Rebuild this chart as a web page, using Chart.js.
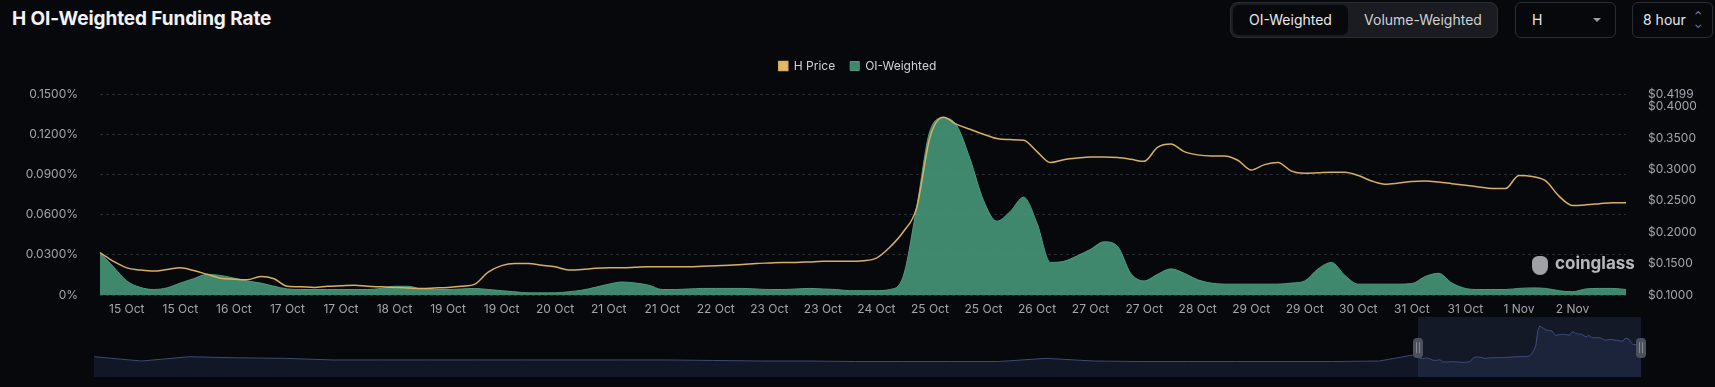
<!DOCTYPE html>
<html>
<head>
<meta charset="utf-8">
<script src="https://cdn.jsdelivr.net/npm/chart.js@4.4.0/dist/chart.umd.min.js"></script>
<style>
  body { margin: 0; background: #07080c; width: 1715px; height: 387px; overflow: hidden; position: relative; font-family: Inter, "Noto Sans", sans-serif; }
  .title { position: absolute; left: 12px; top: 5px; font-size: 19px; line-height: 28px; font-weight: 700; color: #f2f3f5; letter-spacing: -0.1px; }
  .seg { position: absolute; left: 1230px; top: 2px; width: 266px; height: 34px; background: #1a1c21; border: 1px solid #2a2d33; border-radius: 8px; }
  .seg .on { position: absolute; left: 2px; top: 2px; width: 115px; height: 30px; background: #08090c; border-radius: 6px; color: #e8e9eb; font-size: 14px; line-height: 30px; text-align: center; }
  .seg .off { position: absolute; left: 120px; top: 2px; width: 144px; height: 30px; color: #cfd1d5; font-size: 14px; line-height: 30px; text-align: center; }
  .box { position: absolute; top: 2px; height: 34px; border: 1px solid #2a2d33; border-radius: 6px; color: #e8e9eb; font-size: 14px; line-height: 34px; }
  .caret { position: absolute; right: 14px; top: 15px; width: 0; height: 0; border-left: 4px solid transparent; border-right: 4px solid transparent; border-top: 4px solid #9a9ea6; }
  .updown { position: absolute; right: 10px; top: 0; font-size: 10px; color: #9a9ea6; line-height: 9px; padding-top: 8px; text-align: center; }
  #main { position: absolute; left: 0; top: 45px; }
  #nav { position: absolute; left: 94px; top: 317px; }
  .sel { position: absolute; left: 1418px; top: 317px; width: 223px; height: 60px; background: rgba(70, 85, 140, 0.22); }
  .handle { position: absolute; top: 338px; width: 10px; height: 20px; background: #4b505c; border-radius: 4px; color: #9ea3ad; font-size: 9px; line-height: 20px; text-align: center; }
  .mark { position: absolute; top: 253px; color: rgba(225, 227, 232, 0.8); font-size: 17px; font-weight: 700; }
  .logo { position: absolute; left: 1532px; top: 256px; width: 16px; height: 19px; background: rgba(210, 212, 218, 0.75); border-radius: 7px 7px 9px 9px; }
</style>
</head>
<body>
<div class="title">H OI-Weighted Funding Rate</div>
<div class="seg"><div class="on">OI-Weighted</div><div class="off">Volume-Weighted</div></div>
<div class="box" style="left:1515px;width:99px;"><span style="padding-left:16px">H</span><div class="caret"></div></div>
<div class="box" style="left:1632px;width:79px;"><span style="padding-left:10px">8 hour</span><div class="updown">&#8963;<br>&#8964;</div></div>

<canvas id="main" width="1715" height="280"></canvas>
<canvas id="nav" width="1547" height="60"></canvas>
<div class="sel"></div>
<div class="handle" style="left:1413px;">||</div>
<div class="handle" style="left:1636px;">||</div>
<div class="logo"></div>
<div class="mark" style="left:1555px;">coinglass</div>

<script>
// x tick labels, one every 16 hours
const tickLabels = ['15 Oct', '15 Oct', '16 Oct', '17 Oct', '17 Oct', '18 Oct', '19 Oct', '19 Oct', '20 Oct', '21 Oct',
  '21 Oct', '22 Oct', '23 Oct', '23 Oct', '24 Oct', '25 Oct', '25 Oct', '26 Oct', '27 Oct', '27 Oct',
  '28 Oct', '29 Oct', '29 Oct', '30 Oct', '31 Oct', '31 Oct', '1 Nov', '2 Nov']

// H price ($), 4h steps from 14 Oct 16:00
const priceData = [
  0.1674, 0.1536, 0.1432, 0.1398, 0.1380, 0.1406, 0.1432, 0.1389, 0.1329, 0.1268,
  0.1251, 0.1242, 0.1294, 0.1259, 0.1138, 0.1130, 0.1121, 0.1138, 0.1147, 0.1156,
  0.1138, 0.1130, 0.1121, 0.1112, 0.1104, 0.1112, 0.1121, 0.1138, 0.1173, 0.1363,
  0.1467, 0.1501, 0.1501, 0.1475, 0.1450, 0.1398, 0.1406, 0.1424, 0.1432, 0.1432,
  0.1441, 0.1450, 0.1450, 0.1450, 0.1450, 0.1458, 0.1467, 0.1475, 0.1484, 0.1501,
  0.1510, 0.1519, 0.1519, 0.1527, 0.1536, 0.1536, 0.1536, 0.1545, 0.1588, 0.1761,
  0.2003, 0.2383, 0.3507, 0.3827, 0.3715, 0.3637, 0.3559, 0.3490, 0.3473, 0.3464,
  0.3282, 0.3109, 0.3153, 0.3179, 0.3196, 0.3196, 0.3187, 0.3161, 0.3127, 0.3351,
  0.3403, 0.3282, 0.3230, 0.3213, 0.3213, 0.3144, 0.2988, 0.3075, 0.3109, 0.2971,
  0.2936, 0.2945, 0.2954, 0.2954, 0.2902, 0.2815, 0.2764, 0.2781, 0.2807, 0.2815,
  0.2798, 0.2772, 0.2746, 0.2720, 0.2694, 0.2694, 0.2902, 0.2885, 0.2815, 0.2573,
  0.2426, 0.2435, 0.2452, 0.2470, 0.2470
]

// OI-weighted funding rate (%)
const oiData = [
  0.0316, 0.0211, 0.0105, 0.0057, 0.0041, 0.0053, 0.0089, 0.0122, 0.0154, 0.0146,
  0.0126, 0.0105, 0.0089, 0.0065, 0.0045, 0.0041, 0.0041, 0.0041, 0.0041, 0.0041,
  0.0041, 0.0049, 0.0065, 0.0065, 0.0045, 0.0041, 0.0041, 0.0045, 0.0049, 0.0041,
  0.0032, 0.0024, 0.0016, 0.0016, 0.0016, 0.0024, 0.0036, 0.0057, 0.0081, 0.0097,
  0.0089, 0.0073, 0.0041, 0.0041, 0.0045, 0.0049, 0.0049, 0.0049, 0.0049, 0.0045,
  0.0041, 0.0041, 0.0045, 0.0049, 0.0045, 0.0041, 0.0032, 0.0032, 0.0032, 0.0041,
  0.0138, 0.0649, 0.1225, 0.1322, 0.1265, 0.1014, 0.0706, 0.0551, 0.0624, 0.0730,
  0.0535, 0.0243, 0.0251, 0.0292, 0.0341, 0.0397, 0.0365, 0.0162, 0.0105, 0.0154,
  0.0195, 0.0162, 0.0114, 0.0089, 0.0081, 0.0081, 0.0081, 0.0081, 0.0081, 0.0089,
  0.0105, 0.0195, 0.0243, 0.0146, 0.0081, 0.0081, 0.0081, 0.0081, 0.0085, 0.0138,
  0.0162, 0.0089, 0.0049, 0.0041, 0.0041, 0.0041, 0.0049, 0.0053, 0.0049, 0.0032,
  0.0024, 0.0045, 0.0049, 0.0049, 0.0041
]

const leftTicks = [0, 0.03, 0.06, 0.09, 0.12, 0.15]
const rightTicks = [0.1, 0.15, 0.2, 0.25, 0.3, 0.35, 0.4, 0.4199]

// navigator: older price history (days before 14 Oct 16:00)
const navDays = [-111, -107, -103, -99, -95, -91, -87, -83, -79, -75, -71, -67, -63, -59, -55, -51, -47, -43, -39, -35, -31, -27, -23, -19, -15, -11, -7, -3]
const navPrice = [0.152, 0.120, 0.152, 0.144, 0.140, 0.128, 0.128, 0.128, 0.128, 0.128, 0.128, 0.128, 0.128, 0.124, 0.120, 0.120, 0.116, 0.116, 0.116, 0.116, 0.140, 0.120, 0.116, 0.116, 0.116, 0.116, 0.116, 0.120]

// category labels, every 4 hours
const times = []
for (let i = 0; i < priceData.length; i++) {
  const h = 16 + i * 4
  let d = 14 + Math.floor(h / 24)
  let m = 'Oct'
  if (d > 31) { d -= 31; m = 'Nov' }
  times.push(d + ' ' + m + ' ' + String(h % 24).padStart(2, '0') + ':00')
}

const font = { family: 'Inter, "Noto Sans", sans-serif', size: 12 }
const tickColor = '#a2a5ac'

// extra room under the legend
const legendPad = {
  id: 'legendPad',
  beforeInit(chart) {
    const fit = chart.legend.fit
    chart.legend.fit = function () {
      fit.bind(chart.legend)()
      this.height += 12
    }
  }
}

new Chart(document.getElementById('main'), {
  type: 'line',
  data: {
    labels: times,
    datasets: [{
      label: 'H Price',
      data: priceData,
      yAxisID: 'yPrice',
      borderColor: '#d8b063',
      backgroundColor: '#e2b964',
      borderWidth: 1.5,
      pointRadius: 0,
      cubicInterpolationMode: 'monotone',
      fill: false
    }, {
      label: 'OI-Weighted',
      data: oiData,
      yAxisID: 'yRate',
      borderColor: '#4c9d80',
      backgroundColor: 'rgba(70, 150, 120, 0.9)',
      borderWidth: 1,
      pointRadius: 0,
      cubicInterpolationMode: 'monotone',
      fill: 'origin'
    }]
  },
  options: {
    responsive: false,
    animation: false,
    layout: { padding: { top: 0, left: 0, right: 0, bottom: 0 } },
    plugins: {
      legend: {
        labels: { color: '#cfd2d8', boxWidth: 9, boxHeight: 9, padding: 15, font: font }
      },
      tooltip: { enabled: false }
    },
    scales: {
      x: {
        grid: { display: false, drawTicks: false },
        border: { display: false },
        ticks: {
          autoSkip: false,
          maxRotation: 0,
          color: tickColor,
          font: font,
          padding: 7,
          callback: (v, i) => i % 4 === 2 ? tickLabels[(i - 2) / 4] : null
        },
        afterFit: s => { s.height = 30 }
      },
      yRate: {
        position: 'left',
        min: 0,
        max: 0.15,
        afterBuildTicks: s => { s.ticks = leftTicks.map(v => ({ value: v })) },
        ticks: { color: tickColor, font: font, padding: 22, callback: v => v === 0 ? '0%' : v.toFixed(4) + '%' },
        grid: { color: '#2a2d34', drawTicks: false },
        border: { display: false, dash: [3, 3] },
        afterFit: s => { s.width = 100 }
      },
      yPrice: {
        position: 'right',
        min: 0.1,
        max: 0.4199,
        afterBuildTicks: s => { s.ticks = rightTicks.map(v => ({ value: v })) },
        ticks: { color: tickColor, font: font, padding: 22, callback: v => '$' + v.toFixed(4) },
        grid: { display: false, drawTicks: false },
        border: { display: false },
        afterFit: s => { s.width = 89 }
      }
    }
  },
  plugins: [legendPad]
})

// navigator line = history + current window
const navPoints = navDays.map((d, i) => ({ x: d, y: navPrice[i] }))
priceData.forEach((p, i) => navPoints.push({ x: i / 6, y: p }))

new Chart(document.getElementById('nav'), {
  type: 'line',
  data: {
    datasets: [{
      data: navPoints,
      borderColor: '#3d4a72',
      backgroundColor: '#111726',
      borderWidth: 1,
      pointRadius: 0,
      fill: 'start'
    }]
  },
  options: {
    responsive: false,
    animation: false,
    layout: { padding: 0 },
    plugins: { legend: { display: false }, tooltip: { enabled: false } },
    scales: {
      x: { type: 'linear', min: -111, max: 19, display: false },
      y: { min: 0, max: 0.45, display: false }
    }
  }
})
</script>
</body>
</html>
